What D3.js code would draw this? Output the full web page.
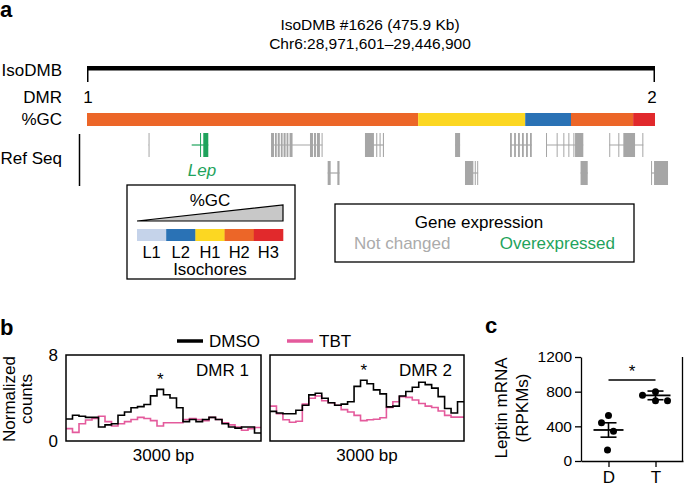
<!DOCTYPE html>
<html><head><meta charset="utf-8">
<script src="https://cdn.jsdelivr.net/npm/d3@7"></script>
<style>
body{margin:0;background:#fff;}
svg text{font-family:"Liberation Sans",Arial,Helvetica,sans-serif;fill:#000;}
</style></head><body>
<svg id="chart" width="685" height="487"></svg>
<script>
// ================= DATA =================
// Panel a
const titleLines = ["IsoDMB #1626 (475.9 Kb)", "Chr6:28,971,601\u201329,446,900"];
const regionLengthKb = 475.3;
const dmrLabels = ["1", "2"];
const dmrPositionsKb = [0, 475.3];
const gcStartsKb = [0, 277.1, 366.7, 405.0, 457.0];
const gcEndsKb   = [277.1, 366.7, 405.0, 457.0, 475.3];
const gcClasses  = ["H2", "H1", "L2", "H2", "H3"];
const isochoreClasses = ["L1", "L2", "H1", "H2", "H3"];
const geneNames = ["", "Lep", "", "", "", "", "", "", "", "", "", ""];
const geneRows  = [0, 0, 0, 0, 0, 0, 0, 0, 1, 1, 1, 1];
const geneExpr  = ["not", "over", "not", "not", "not", "not", "not", "not", "not", "not", "not", "not"];
const geneStartsKb = [51.5, 87.6, 154.0, 232.6, 308.0, 354.0, 384.1, 437.0, 201.4, 316.3, 413.0, 472.0];
const geneEndsKb   = [51.9, 101.5, 197.0, 248.5, 312.2, 372.2, 415.3, 465.5, 211.3, 327.3, 419.0, 486.2];
const geneExonsKb = [
  [[51.5, 0.4]],
  [[94.6, 0.6], [97.3, 4.2]],
  [[154.0, 2.5], [157.3, 1.5], [159.6, 1.7], [162.2, 1.5], [164.5, 1.7], [167.0, 1.5], [169.5, 2.5], [186.6, 2.5], [189.9, 1.7], [192.4, 2.5], [196.3, 0.7]],
  [[232.6, 7.5], [242.0, 0.9], [244.8, 0.9], [247.6, 0.9]],
  [[308.0, 4.2]],
  [[354.0, 1.5], [357.4, 1.5], [360.7, 1.5], [364.0, 1.5], [367.4, 1.5], [370.7, 1.5]],
  [[384.1, 0.8], [393.0, 0.8], [398.6, 0.8], [402.8, 0.8], [407.0, 0.8], [408.4, 6.9]],
  [[437.0, 0.8], [444.6, 0.8], [448.8, 9.8], [464.7, 0.8]],
  [[201.4, 2.5], [209.5, 1.8]],
  [[316.3, 7.0], [324.5, 0.8], [326.5, 0.8]],
  [[413.0, 6.0]],
  [[472.0, 0.8], [474.5, 11.7]]
];
const expressionLabels = ["Not changed", "Overexpressed"];

// Panel b (normalized counts, 30 bins of 100 bp over 3000 bp)
const binBp = 100;
const dmr1Dmso = [2.05,2.4,2.3,2.2,2.2,1.3,1.5,1.6,2.4,2.7,3.1,3.2,3.4,4.2,4.8,4.3,4.0,3.1,1.8,2.0,1.8,2.0,2.2,2.0,1.6,1.3,1.2,1.3,1.3,0.75];
const dmr1Tbt  = [1.15,0.8,1.6,1.95,2.1,2.3,1.8,1.4,1.6,1.8,2.0,2.2,2.1,1.9,1.4,1.7,1.7,1.7,2.0,2.1,2.0,1.9,2.2,2.0,1.7,1.5,1.3,1.0,1.15,1.25];
const dmr2Dmso = [2.76,2.6,2.54,2.54,2.86,3.33,4.29,4.44,3.97,3.56,3.33,3.43,3.65,5.08,5.65,5.33,4.76,4.38,3.17,3.24,4.19,4.6,5.0,5.46,5.24,4.92,4.13,3.02,2.6,3.65];
const dmr2Tbt  = [3.24,2.54,1.97,1.75,1.84,3.43,3.97,4.19,3.75,3.56,3.33,2.92,2.7,2.38,1.9,1.97,2.03,2.16,3.11,3.65,4.13,4.06,3.81,3.49,3.24,3.11,2.79,2.38,2.22,2.22];
const countTicks = [0, 8];
const seriesNames = ["DMSO", "TBT"];
const dmrTitles = ["DMR 1", "DMR 2"];
const windowLabel = "3000 bp";

// Panel c
const groups = ["D", "T"];
const leptinD = [524, 441, 343, 128];
const leptinT = [800, 758, 694, 694];
const leptinMean = [358, 757];
const leptinSem = [83, 50];
const leptinTicks = [0, 400, 800, 1200];

// ================= STYLE =================
const C = {
  L1: "#c5d3ea", L2: "#2a72b5", H1: "#fcd722", H2: "#ec6628", H3: "#e1292c",
  gray: "#a6a6a6", green: "#1fa35c", pink: "#e45a9c", black: "#000"
};
const FS = 17;

const svg = d3.select("#chart");

// ================= PANEL A =================
svg.append("text").text("a").attr("x", 0).attr("y", 17)
  .attr("font-weight", "bold").attr("font-size", 22);

svg.selectAll(".title").data(titleLines).join("text")
  .attr("x", 370).attr("y", (d, i) => 25 + i * 19).attr("dy", "0.35em")
  .attr("text-anchor", "middle").attr("font-size", 15.5).text(d => d);

const xG = d3.scaleLinear().domain([0, regionLengthKb]).range([87, 655]);

const rowLabels = [["IsoDMB", 70], ["DMR", 97], ["%GC", 119], ["Ref Seq", 158]];
svg.selectAll(".rowlab").data(rowLabels).join("text")
  .attr("x", 62).attr("y", d => d[1]).attr("dy", "0.35em")
  .attr("text-anchor", "end").attr("font-size", FS).text(d => d[0]);

// IsoDMB bar
svg.append("rect").attr("x", xG(0)).attr("y", 66).attr("width", xG(regionLengthKb) - xG(0))
  .attr("height", 4.5).attr("fill", C.black);
svg.selectAll(".endtick").data(dmrPositionsKb).join("line")
  .attr("x1", (d, i) => xG(d) + (i ? -0.75 : 0.75)).attr("x2", (d, i) => xG(d) + (i ? -0.75 : 0.75))
  .attr("y1", 66).attr("y2", 82).attr("stroke", C.black).attr("stroke-width", 1.5);
svg.selectAll(".dmrlab").data(dmrLabels).join("text")
  .attr("x", (d, i) => xG(dmrPositionsKb[i]) + (i ? -3 : 1)).attr("y", 97).attr("dy", "0.35em")
  .attr("text-anchor", "middle").attr("font-size", FS).text(d => d);

// GC bar
svg.selectAll(".gc").data(gcClasses).join("rect")
  .attr("x", (d, i) => xG(gcStartsKb[i])).attr("y", 113)
  .attr("width", (d, i) => xG(gcEndsKb[i]) - xG(gcStartsKb[i])).attr("height", 13)
  .attr("fill", d => C[d]);

// Ref Seq
svg.append("line").attr("x1", 79.5).attr("x2", 79.5).attr("y1", 134).attr("y2", 186)
  .attr("stroke", C.black).attr("stroke-width", 1.5);
const rowTop = [133, 161], exonH = 24;
geneNames.forEach((name, gi) => {
  const col = geneExpr[gi] === "over" ? C.green : C.gray;
  const g = svg.append("g");
  const top = rowTop[geneRows[gi]];
  g.append("line").attr("x1", xG(geneStartsKb[gi])).attr("x2", xG(geneEndsKb[gi]))
    .attr("y1", top + exonH / 2).attr("y2", top + exonH / 2)
    .attr("stroke", col).attr("stroke-width", 1.2);
  g.selectAll("rect").data(geneExonsKb[gi]).join("rect")
    .attr("x", d => xG(d[0])).attr("width", d => Math.max(1, xG(d[0] + d[1]) - xG(d[0])))
    .attr("y", top).attr("height", exonH).attr("fill", col);
  if (name) {
    svg.append("text").attr("x", (xG(geneStartsKb[gi]) + xG(geneEndsKb[gi])) / 2 + 2)
      .attr("y", 170).attr("dy", "0.35em").attr("text-anchor", "middle")
      .attr("font-size", FS).attr("font-style", "italic").style("fill", C.green).text(name);
  }
});

// Isochore legend
svg.append("rect").attr("x", 127).attr("y", 185).attr("width", 168).attr("height", 94)
  .attr("fill", "none").attr("stroke", C.black).attr("stroke-width", 1.3);
svg.append("text").attr("x", 210).attr("y", 200).attr("dy", "0.35em").attr("text-anchor", "middle")
  .attr("font-size", FS).text("%GC");
svg.append("path").attr("d", "M137,221L283,205L283,221Z").attr("fill", "#c8c8c8")
  .attr("stroke", C.black).attr("stroke-width", 1.2);
const xIso = d3.scaleBand().domain(isochoreClasses).range([137, 283]);
svg.selectAll(".iso").data(isochoreClasses).join("rect")
  .attr("x", d => xIso(d)).attr("y", 229).attr("width", xIso.bandwidth() + 0.3).attr("height", 12)
  .attr("fill", d => C[d]);
svg.selectAll(".isolab").data(isochoreClasses).join("text")
  .attr("x", d => xIso(d) + xIso.bandwidth() / 2).attr("y", 252).attr("dy", "0.35em")
  .attr("text-anchor", "middle").attr("font-size", FS - 0.5).text(d => d);
svg.append("text").attr("x", 210).attr("y", 269).attr("dy", "0.35em").attr("text-anchor", "middle")
  .attr("font-size", FS).text("Isochores");

// Gene expression legend
svg.append("rect").attr("x", 335).attr("y", 204).attr("width", 299).attr("height", 58)
  .attr("fill", "none").attr("stroke", C.black).attr("stroke-width", 1.3);
svg.append("text").attr("x", 479).attr("y", 222).attr("dy", "0.35em").attr("text-anchor", "middle")
  .attr("font-size", FS).text("Gene expression");
svg.append("text").attr("x", 354).attr("y", 243).attr("dy", "0.35em")
  .attr("font-size", FS).style("fill", "#ababab").text(expressionLabels[0]);
svg.append("text").attr("x", 615).attr("y", 243).attr("dy", "0.35em").attr("text-anchor", "end")
  .attr("font-size", FS).style("fill", C.green).text(expressionLabels[1]);

// ================= PANEL B =================
svg.append("text").text("b").attr("x", 0).attr("y", 335)
  .attr("font-weight", "bold").attr("font-size", 22);

const yB = d3.scaleLinear().domain([0, 8]).range([441, 355]);
const panels = [
  {x0: 66, x1: 261, dmso: dmr1Dmso, tbt: dmr1Tbt, title: dmrTitles[0]},
  {x0: 270, x1: 464, dmso: dmr2Dmso, tbt: dmr2Tbt, title: dmrTitles[1]}
];
panels.forEach((p, pi) => {
  const xB = d3.scaleLinear().domain([0, p.dmso.length * binBp]).range([p.x0, p.x1]);
  const toPts = arr => arr.map((v, i) => [i * binBp, v]).concat([[arr.length * binBp, arr[arr.length - 1]]]);
  const line = d3.line().x(d => xB(d[0])).y(d => yB(d[1])).curve(d3.curveStepAfter);
  svg.append("path").attr("d", line(toPts(p.tbt))).attr("fill", "none")
    .attr("stroke", C.pink).attr("stroke-width", 1.6);
  svg.append("path").attr("d", line(toPts(p.dmso))).attr("fill", "none")
    .attr("stroke", C.black).attr("stroke-width", 1.6);
  svg.append("rect").attr("x", p.x0).attr("y", yB(8)).attr("width", p.x1 - p.x0)
    .attr("height", yB(0) - yB(8)).attr("fill", "none").attr("stroke", C.black).attr("stroke-width", 1.5);
  svg.append("text").attr("x", p.x1 - 12).attr("y", 370).attr("dy", "0.35em").attr("text-anchor", "end")
    .attr("font-size", FS).text(p.title);
  const peakIdx = d3.maxIndex(p.dmso.slice(0, 20));
  svg.append("text").attr("x", xB((peakIdx + 0.5) * binBp)).attr("y", yB(p.dmso[peakIdx]) - 4)
    .attr("text-anchor", "middle").attr("font-size", FS).text("*");
  svg.append("text").attr("x", (p.x0 + p.x1) / 2).attr("y", 455).attr("dy", "0.35em")
    .attr("text-anchor", "middle").attr("font-size", FS).text(windowLabel);
});
svg.selectAll(".btick").data(countTicks).join("text")
  .attr("x", 58).attr("y", d => yB(d)).attr("dy", "0.35em").attr("text-anchor", "end")
  .attr("font-size", FS).text(d => d);
[["Normalized", 9], ["counts", 26]].forEach(([t, x]) => {
  svg.append("text").attr("transform", `translate(${x},399) rotate(-90)`).attr("dy", "0.35em")
    .attr("text-anchor", "middle").attr("font-size", FS).text(t);
});
// legend
[[177, C.black, seriesNames[0]], [287, C.pink, seriesNames[1]]].forEach(([x, c, t]) => {
  svg.append("line").attr("x1", x).attr("x2", x + 26).attr("y1", 341).attr("y2", 341)
    .attr("stroke", c).attr("stroke-width", 3.5);
  svg.append("text").attr("x", x + 32).attr("y", 341).attr("dy", "0.35em")
    .attr("font-size", FS).text(t);
});

// ================= PANEL C =================
svg.append("text").text("c").attr("x", 485).attr("y", 333)
  .attr("font-weight", "bold").attr("font-size", 22);
const yC = d3.scaleLinear().domain([0, 1200]).range([461, 357]);
const xC = d3.scalePoint().domain(groups).range([581, 683]).padding(0.585);
const gy = svg.append("g").attr("transform", "translate(581,0)")
  .call(d3.axisLeft(yC).tickValues(leptinTicks).tickFormat(d3.format("d")).tickSize(6).tickSizeOuter(0).tickPadding(3));
const gx = svg.append("g").attr("transform", "translate(0,461)")
  .call(d3.axisBottom(xC).tickSize(6).tickSizeOuter(0).tickPadding(4));
[gy, gx].forEach(g => {
  g.selectAll("path,line").attr("stroke-width", 1.3);
});
gy.selectAll("text").attr("font-size", 15.5).attr("font-family", '"Liberation Sans",Arial,sans-serif');
gx.selectAll("text").attr("font-size", FS).attr("font-family", '"Liberation Sans",Arial,sans-serif');
svg.append("line").attr("x1", 682.5).attr("x2", 682.5).attr("y1", 357).attr("y2", 461)
  .attr("stroke", C.black).attr("stroke-width", 1.3);
[["Leptin mRNA", 501], ["(RPKMs)", 522]].forEach(([t, x]) => {
  svg.append("text").attr("transform", `translate(${x},408) rotate(-90)`).attr("dy", "0.35em")
    .attr("text-anchor", "middle").attr("font-size", FS).text(t);
});
const jitter = [[0, -7, 5, -1], [0, -13, 0, 12]];
[leptinD, leptinT].forEach((vals, gi) => {
  const cx = xC(groups[gi]);
  svg.selectAll(".pt" + gi).data(vals).join("circle")
    .attr("cx", (d, i) => cx + jitter[gi][i]).attr("cy", d => yC(d)).attr("r", 3.5).attr("fill", C.black);
  const m = leptinMean[gi], s = leptinSem[gi];
  svg.append("line").attr("x1", cx - 15).attr("x2", cx + 15).attr("y1", yC(m)).attr("y2", yC(m))
    .attr("stroke", C.black).attr("stroke-width", 1.8);
  svg.append("line").attr("x1", cx).attr("x2", cx).attr("y1", yC(m - s)).attr("y2", yC(m + s))
    .attr("stroke", C.black).attr("stroke-width", 1.6);
  [m - s, m + s].forEach(v => svg.append("line").attr("x1", cx - 8).attr("x2", cx + 8)
    .attr("y1", yC(v)).attr("y2", yC(v)).attr("stroke", C.black).attr("stroke-width", 1.6));
});
svg.append("line").attr("x1", xC("D")).attr("x2", xC("T")).attr("y1", 380).attr("y2", 380)
  .attr("stroke", C.black).attr("stroke-width", 1.3);
svg.append("text").attr("x", (xC("D") + xC("T")) / 2).attr("y", 377).attr("text-anchor", "middle")
  .attr("font-size", FS).text("*");
</script>
</body></html>
